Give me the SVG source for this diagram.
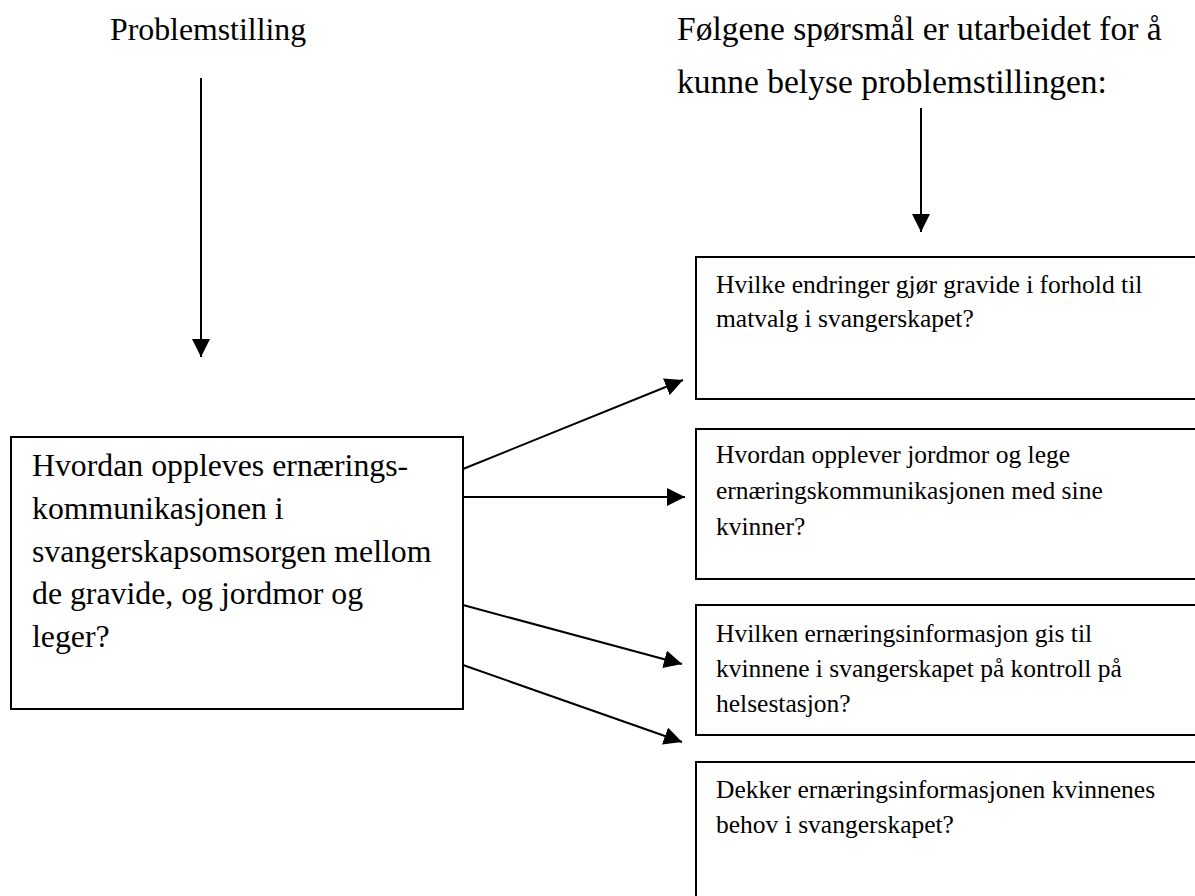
<svg xmlns="http://www.w3.org/2000/svg" width="1195" height="896" viewBox="0 0 1195 896">
  <style>
    .box { fill: #fff; stroke: #000; stroke-width: 2; }
    .big { font-family: "Liberation Serif", "Times New Roman", serif; font-size: 31.8px; fill: #000; }
    .head { font-family: "Liberation Serif", "Times New Roman", serif; font-size: 33.5px; fill: #000; }
    .small { font-family: "Liberation Serif", "Times New Roman", serif; font-size: 25.5px; fill: #000; }
    .conn { stroke: #000; stroke-width: 2; fill: none; marker-end: url(#arrow); }
  </style>
  <defs>
    <marker id="arrow" markerUnits="userSpaceOnUse" markerWidth="18" markerHeight="18" viewBox="0 0 16 16" refX="16" refY="8" orient="auto">
      <path d="M0,0 L16,8 L0,16 Z" fill="#000"/>
    </marker>
  </defs>
  <rect width="1195" height="896" fill="#fff"/>

  <!-- headings -->
  <text class="big" x="110" y="40">Problemstilling</text>
  <text class="head" x="677" y="40">Følgene spørsmål er utarbeidet for å</text>
  <text class="head" x="677" y="93">kunne belyse problemstillingen:</text>

  <!-- connectors -->
  <g id="connectors">
    <line class="conn" x1="201" y1="78" x2="201" y2="357"/>
    <line class="conn" x1="921" y1="108" x2="921" y2="232"/>
    <line class="conn" x1="463" y1="469" x2="683" y2="380"/>
    <line class="conn" x1="463" y1="497" x2="685" y2="497"/>
    <line class="conn" x1="463" y1="605" x2="682" y2="664"/>
    <line class="conn" x1="463" y1="665" x2="682" y2="742"/>
  </g>

  <!-- main question -->
  <g id="main">
    <rect class="box" x="11" y="437" width="452" height="272"/>
    <text class="big" x="32" y="476">Hvordan oppleves ernærings-</text>
    <text class="big" x="32" y="519">kommunikasjonen i</text>
    <text class="big" x="32" y="562">svangerskapsomsorgen mellom</text>
    <text class="big" x="32" y="604">de gravide, og jordmor og</text>
    <text class="big" x="32" y="647">leger?</text>
  </g>

  <!-- sub questions -->
  <g id="q1">
    <rect class="box" x="696" y="257" width="510" height="142"/>
    <text class="small" x="716" y="293">Hvilke endringer gjør gravide i forhold til</text>
    <text class="small" x="716" y="327">matvalg i svangerskapet?</text>
  </g>
  <g id="q2">
    <rect class="box" x="696" y="429" width="510" height="150"/>
    <text class="small" x="716" y="463">Hvordan opplever jordmor og lege</text>
    <text class="small" x="716" y="499">ernæringskommunikasjonen med sine</text>
    <text class="small" x="716" y="535">kvinner?</text>
  </g>
  <g id="q3">
    <rect class="box" x="696" y="605" width="510" height="130"/>
    <text class="small" x="716" y="642">Hvilken ernæringsinformasjon gis til</text>
    <text class="small" x="716" y="677">kvinnene i svangerskapet på kontroll på</text>
    <text class="small" x="716" y="712">helsestasjon?</text>
  </g>
  <g id="q4">
    <rect class="box" x="696" y="762" width="510" height="150"/>
    <text class="small" x="716" y="798">Dekker ernæringsinformasjonen kvinnenes</text>
    <text class="small" x="716" y="833">behov i svangerskapet?</text>
  </g>
</svg>
